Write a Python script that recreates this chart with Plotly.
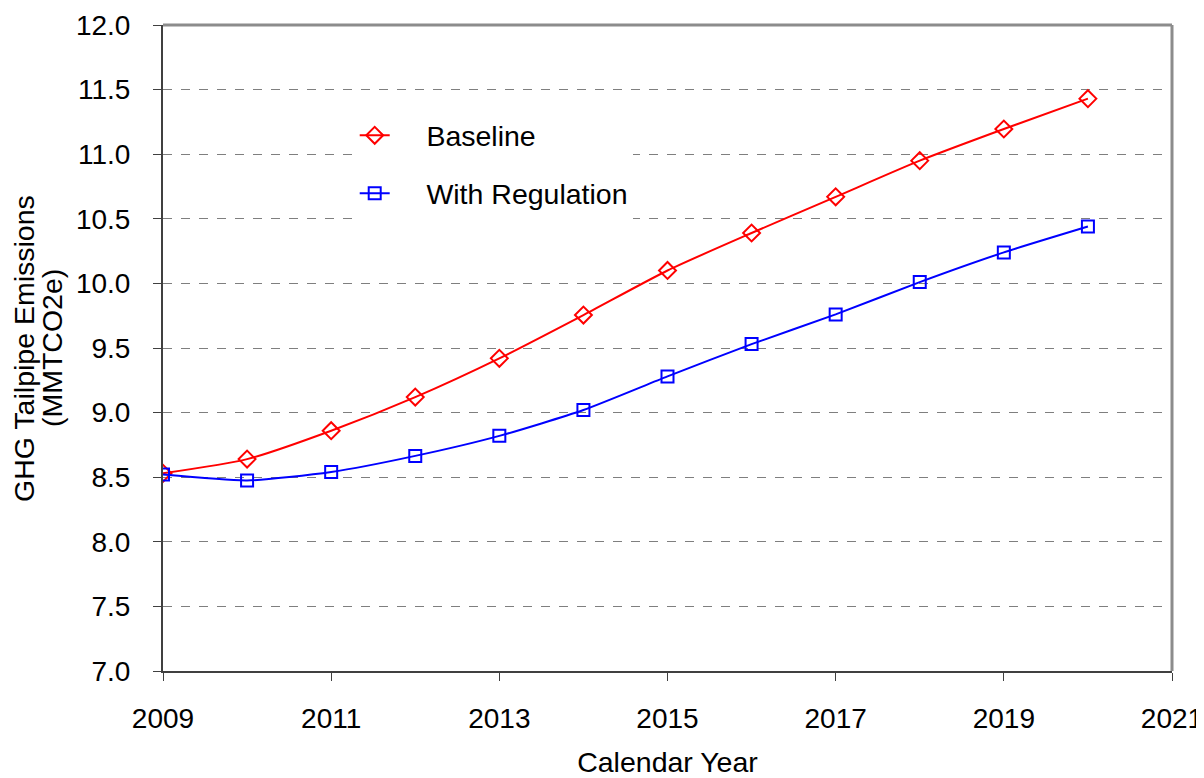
import plotly.graph_objects as go

years = [2009, 2010, 2011, 2012, 2013, 2014, 2015, 2016, 2017, 2018, 2019, 2020]
baseline = [8.53, 8.64, 8.86, 9.12, 9.42, 9.755, 10.10, 10.39, 10.67, 10.95, 11.195, 11.43]
with_regulation = [8.52, 8.475, 8.54, 8.665, 8.82, 9.02, 9.28, 9.53, 9.76, 10.01, 10.24, 10.44]

y_title_lines = ["GHG Tailpipe Emissions", "(MMTCO2e)"]

FONT = "Liberation Sans, Arial, sans-serif"
NB = "\u00a0\u00a0\u00a0\u00a0"

fig = go.Figure()
fig.add_trace(go.Scatter(
    x=years, y=baseline, name=NB + "Baseline", mode="lines+markers",
    line=dict(color="#ff0000", width=2, shape="spline", smoothing=0.6),
    marker=dict(symbol="diamond-open", size=13, color="#ff0000", line=dict(width=2, color="#ff0000")),
    legendgroup="a",
))
fig.add_trace(go.Scatter(
    x=years, y=with_regulation, name=NB + "With Regulation", mode="lines+markers",
    line=dict(color="#0000ff", width=2, shape="spline", smoothing=0.6),
    marker=dict(symbol="square-open", size=12, color="#0000ff", line=dict(width=2, color="#0000ff")),
    legendgroup="b",
))

# page body has an 8px default margin, so the figure is drawn 8px in from the corner
fig.update_layout(
    width=1196, height=770,
    margin=dict(l=155, r=32, t=17, b=107),
    paper_bgcolor="white", plot_bgcolor="white",
    font=dict(family=FONT, size=28, color="black"),
    showlegend=True,
    legend=dict(
        x=0.19, y=0.868, xanchor="left", yanchor="top",
        bgcolor="white", borderwidth=0,
        font=dict(family=FONT, size=28.5, color="black"),
        traceorder="grouped", tracegroupgap=18,
    ),
    xaxis=dict(
        range=[2009, 2021], dtick=2, tick0=2009, automargin=False,
        showgrid=False, zeroline=False,
        showline=True, linecolor="#404040", linewidth=2,
        ticks="outside", ticklen=8, tickcolor="#404040", tickwidth=1,
        ticklabelstandoff=13,
        tickfont=dict(family=FONT, size=28),
        title=dict(text="Calendar Year", font=dict(family=FONT, size=28.5), standoff=26),
    ),
    yaxis=dict(
        range=[7, 12], dtick=0.5, tick0=7, tickformat=".1f", automargin=False,
        showgrid=True, gridcolor="#7f7f7f", griddash="dash", gridwidth=1,
        zeroline=False,
        showline=True, linecolor="#404040", linewidth=2,
        ticks="outside", ticklen=8, tickcolor="#404040", tickwidth=1,
        ticklabelstandoff=17,
        tickfont=dict(family=FONT, size=28),
    ),
    annotations=[
        dict(text=y_title_lines[0], xref="paper", yref="paper", x=-0.1378, y=0.5,
             xanchor="center", yanchor="middle", textangle=-90, showarrow=False,
             font=dict(family=FONT, size=28.5, color="black")),
        dict(text=y_title_lines[1], xref="paper", yref="paper", x=-0.110, y=0.5,
             xanchor="center", yanchor="middle", textangle=-90, showarrow=False,
             font=dict(family=FONT, size=28.5, color="black")),
    ],
    shapes=[
        dict(type="line", xref="paper", yref="paper", x0=0, x1=1, y0=1, y1=1,
             line=dict(color="#8c8c8c", width=3)),
        dict(type="line", xref="paper", yref="paper", x0=1, x1=1, y0=0, y1=1,
             line=dict(color="#8c8c8c", width=3)),
    ],
)

fig.write_html("out.html")
